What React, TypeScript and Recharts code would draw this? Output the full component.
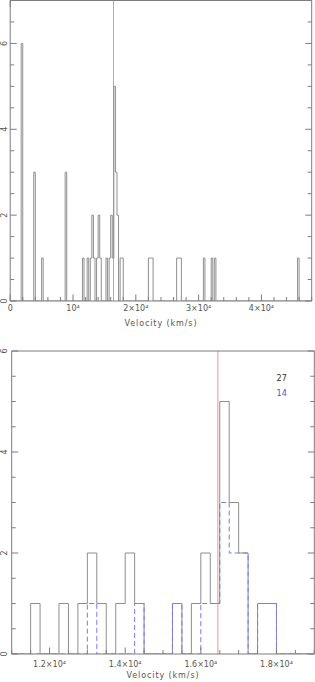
import { Line, LineChart, ReferenceLine, XAxis, YAxis } from 'recharts'

const BIN = 250
const FONT = '"DejaVu Sans", sans-serif'
const AXIS = '#7d7d7d'
const INK = '#8e8e8e'
const TEXT = '#555'
const BLUE = '#7a7af2'
const RED = '#f29494'

// whole sample, 250 km/s bins (left edge of bin) and counts
const allBins = [
  1750, 3750, 5000, 8750, 11500, 12250, 12750, 13000, 13250, 13750, 14000,
  14250, 15250, 15750, 16000, 16250, 16500, 16750, 17000, 17500, 17750, 22000,
  22250, 22500, 26500, 26750, 27000, 30750, 32000, 32500, 45750,
]
const allCounts = [
  6, 3, 1, 3, 1, 1, 1, 2, 1, 1, 2, 1, 1, 1, 2, 1, 5, 3, 2, 1, 1, 1, 1, 1, 1, 1,
  1, 1, 1, 1, 1,
]

// subsample drawn dashed in blue
const subBins = [13000, 14250, 15250, 16000, 16250, 16500, 16750, 17000, 17500, 17750]
const subCounts = [1, 1, 1, 1, 1, 3, 2, 2, 1, 1]

const markVelocity = 16450

const wideRange = [0, 48000]
const wideMajor = [0, 10000, 20000, 30000, 40000]
const wideLabels = ['0', '10⁴', '2×10⁴', '3×10⁴', '4×10⁴']
const wideMinorStep = 2000

const zoomRange = [11000, 19000]
const zoomMajor = [12000, 14000, 16000, 18000]
const zoomLabels = ['1.2×10⁴', '1.4×10⁴', '1.6×10⁴', '1.8×10⁴']
const zoomMinorStep = 500

const countMajor = [0, 2, 4, 6]
const countLabels = ['0', '2', '4', '6']

const steps = (lo: number, hi: number, step: number) =>
  Array.from({ length: Math.round((hi - lo) / step) + 1 }, (_, i) => lo + i * step)

function histRows(lo: number, hi: number, sets: Record<string, [number[], number[]]>) {
  return steps(lo, hi, BIN).map((v) => {
    const row: Record<string, number> = { v }
    for (const k in sets) {
      const [bins, counts] = sets[k]
      const i = bins.indexOf(v)
      row[k] = i >= 0 ? counts[i] : 0
    }
    return row
  })
}

const inRange = (v: number) => v >= zoomRange[0] && v < zoomRange[1]
const zoomTotal = allBins.reduce((s, v, i) => (inRange(v) ? s + allCounts[i] : s), 0)
const subTotal = subCounts.reduce((s, c) => s + c, 0)

const wideRows = histRows(wideRange[0], wideRange[1], { all: [allBins, allCounts] })
const zoomRows = histRows(zoomRange[0], zoomRange[1], {
  all: [allBins, allCounts],
  sub: [subBins, subCounts],
})

// inward ticks drawn from the axis position, long on majors
function xTick(dir: number, majors: number[], labels: string[] | null, labelDy = 0) {
  return (p: any) => {
    const i = majors.indexOf(p.payload.value)
    const len = i >= 0 ? 6.5 : 4
    return (
      <g>
        <line x1={p.x} x2={p.x} y1={p.y} y2={p.y + dir * len} stroke={AXIS} />
        {labels && i >= 0 && (
          <text x={p.x} y={p.y + labelDy} textAnchor='middle' fontSize={8} fill={TEXT} fontFamily={FONT}>
            {labels[i]}
          </text>
        )}
      </g>
    )
  }
}

function yTick(dir: number, majors: number[], labels: string[] | null, labelDx = 0) {
  return (p: any) => {
    const i = majors.indexOf(p.payload.value)
    const len = i >= 0 ? 6.5 : 4
    const tx = p.x + labelDx
    return (
      <g>
        <line x1={p.x} x2={p.x + dir * len} y1={p.y} y2={p.y} stroke={AXIS} />
        {labels && i >= 0 && (
          <text
            x={tx}
            y={p.y}
            transform={`rotate(-90 ${tx} ${p.y})`}
            textAnchor='middle'
            dominantBaseline='central'
            fontSize={8}
            fill={TEXT}
            fontFamily={FONT}
          >
            {labels[i]}
          </text>
        )}
      </g>
    )
  }
}

const title = {
  value: 'Velocity (km/s)',
  position: 'insideBottom' as const,
  fontSize: 8,
  fill: TEXT,
  fontFamily: FONT,
  style: { letterSpacing: '0.9px' },
}

function Frame({
  range,
  major,
  labels,
  minorStep,
  yMax,
  labelDy,
  titleOffset,
  axisHeight,
  axisWidth,
}: any) {
  const xTicks = steps(range[0], range[1], minorStep)
  const yTicks = steps(0, yMax, 0.5)
  return [
    <XAxis
      key='b'
      xAxisId='b'
      type='number'
      dataKey='v'
      domain={range}
      allowDataOverflow
      ticks={xTicks}
      interval={0}
      tickSize={0}
      tickMargin={0}
      tickLine={false}
      axisLine={{ stroke: AXIS }}
      height={axisHeight}
      tick={xTick(-1, major, labels, labelDy)}
      label={{ ...title, offset: titleOffset }}
    />,
    <XAxis
      key='t'
      xAxisId='t'
      orientation='top'
      mirror
      type='number'
      domain={range}
      allowDataOverflow
      ticks={xTicks}
      interval={0}
      tickSize={0}
      tickMargin={0}
      tickLine={false}
      axisLine={{ stroke: AXIS }}
      height={1}
      tick={xTick(1, major, null)}
    />,
    <YAxis
      key='l'
      yAxisId='l'
      type='number'
      domain={[0, yMax]}
      allowDataOverflow
      ticks={yTicks}
      interval={0}
      tickSize={0}
      tickMargin={0}
      tickLine={false}
      axisLine={{ stroke: AXIS }}
      width={axisWidth}
      tick={yTick(1, countMajor, countLabels, -(axisWidth - 4.5))}
    />,
    <YAxis
      key='r'
      yAxisId='r'
      orientation='right'
      mirror
      type='number'
      domain={[0, yMax]}
      allowDataOverflow
      ticks={yTicks}
      interval={0}
      tickSize={0}
      tickMargin={0}
      tickLine={false}
      axisLine={{ stroke: AXIS }}
      width={1}
      tick={yTick(-1, countMajor, null)}
    />,
  ]
}

export default function App() {
  return (
    <div style={{ position: 'absolute', left: 0, top: 0, width: 315, height: 682, background: '#fff' }}>
      <div style={{ position: 'absolute', left: 0, top: 0 }}>
        <LineChart width={315} height={335} data={wideRows} margin={{ top: 0.5, right: 3.3, bottom: 0, left: 0 }}>
          {Frame({
            range: wideRange,
            major: wideMajor,
            labels: wideLabels,
            minorStep: wideMinorStep,
            yMax: 7,
            labelDy: 9.5,
            titleOffset: 9.3,
            axisHeight: 34,
            axisWidth: 10.2,
          })}
          <ReferenceLine x={markVelocity} xAxisId='b' yAxisId='l' stroke={RED} />
          <Line
            xAxisId='b'
            yAxisId='l'
            type='stepAfter'
            dataKey='all'
            stroke={INK}
            strokeWidth={1}
            dot={false}
            activeDot={false}
            isAnimationActive={false}
          />
        </LineChart>
      </div>
      <div style={{ position: 'absolute', left: 0, top: 340 }}>
        <LineChart width={315} height={342} data={zoomRows} margin={{ top: 11, right: 0.7, bottom: 0, left: 0 }}>
          {Frame({
            range: zoomRange,
            major: zoomMajor,
            labels: zoomLabels,
            minorStep: zoomMinorStep,
            yMax: 6,
            labelDy: 12.5,
            titleOffset: 4,
            axisHeight: 28,
            axisWidth: 11.7,
          })}
          <ReferenceLine x={markVelocity} xAxisId='b' yAxisId='l' stroke={RED} />
          <Line
            xAxisId='b'
            yAxisId='l'
            type='stepAfter'
            dataKey='all'
            stroke={INK}
            strokeWidth={1}
            dot={false}
            activeDot={false}
            isAnimationActive={false}
          />
          <Line
            xAxisId='b'
            yAxisId='l'
            type='stepAfter'
            dataKey='sub'
            stroke={BLUE}
            strokeWidth={1}
            strokeDasharray='5 3'
            dot={false}
            activeDot={false}
            isAnimationActive={false}
          />
        </LineChart>
      </div>
      <div
        style={{
          position: 'absolute',
          left: 281.7,
          top: 379,
          transform: 'translate(-50%, -50%)',
          fontFamily: FONT,
          fontSize: 8,
          lineHeight: '8px',
          color: '#333',
        }}
      >
        {zoomTotal}
      </div>
      <div
        style={{
          position: 'absolute',
          left: 281.7,
          top: 394,
          transform: 'translate(-50%, -50%)',
          fontFamily: FONT,
          fontSize: 8,
          lineHeight: '8px',
          color: '#4f4fe0',
        }}
      >
        {subTotal}
      </div>
    </div>
  )
}
